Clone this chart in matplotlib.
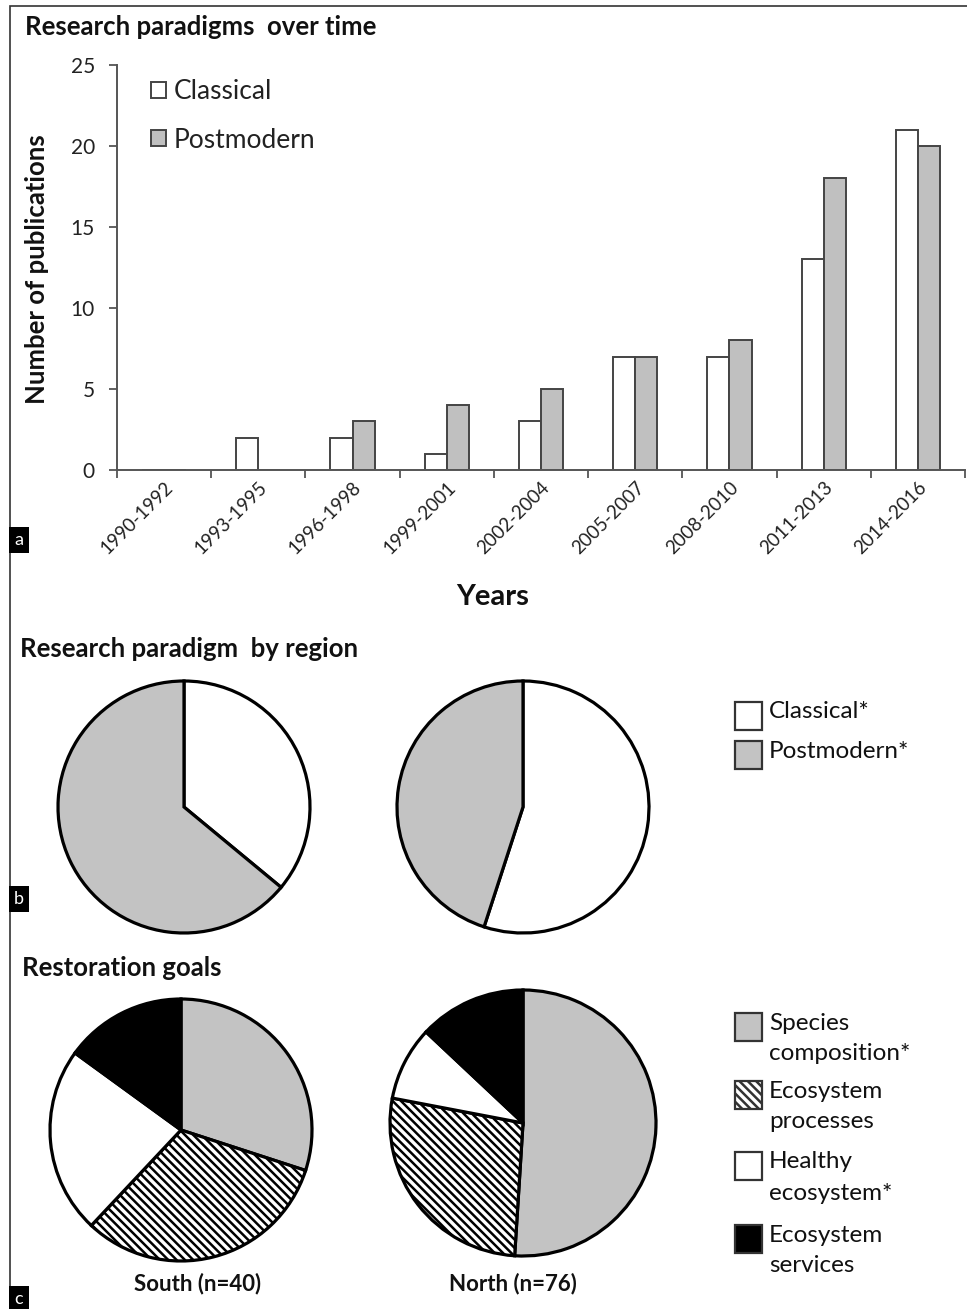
import numpy as np
import matplotlib
matplotlib.use('Agg')
import matplotlib.pyplot as plt
from matplotlib.patches import Rectangle

plt.rcParams['font.family'] = ['Lato', 'DejaVu Sans']
plt.rcParams['hatch.linewidth'] = 1.8

# panel a: publications per period
periods = ['1990-1992', '1993-1995', '1996-1998', '1999-2001', '2002-2004',
           '2005-2007', '2008-2010', '2011-2013', '2014-2016']
classical = [0, 2, 2, 1, 3, 7, 7, 13, 21]
postmodern = [0, 0, 3, 4, 5, 7, 8, 18, 20]

# panel b: paradigm share by region (%)
paradigm_labels = ['Classical*', 'Postmodern*']
paradigm_south = [36, 64]
paradigm_north = [55, 45]

# panel c: restoration goals by region (%)
goal_labels = ['Species\ncomposition*', 'Ecosystem\nprocesses',
               'Healthy\necosystem*', 'Ecosystem\nservices']
goals_south = [30, 32, 23, 15]
goals_north = [51, 27, 9, 13]
regions = ['South (n=40)', 'North (n=76)']

W, H = 967, 1309
fig = plt.figure(figsize=(W / 100, H / 100), dpi=100)
TXT = '#111111'
GREY = '#c0c0c0'


def px_axes(x0, y0, x1, y1):
    # axes from pixel box (top-left origin)
    return fig.add_axes([x0 / W, 1 - y1 / H, (x1 - x0) / W, (y1 - y0) / H])


def ftext(x, y, s, **kw):
    return fig.text(x / W, 1 - y / H, s, **kw)


# ---------- a: bars ----------
ax = px_axes(117, 65, 965, 470)
x = np.arange(len(periods)) + 0.5
w = 0.235
ax.bar(x - w / 2, classical, w, color='white', edgecolor='#444444', lw=1.4, label='Classical')
ax.bar(x + w / 2, postmodern, w, color=GREY, edgecolor='#444444', lw=1.4, label='Postmodern')
ax.set_xlim(0, len(periods))
ax.set_ylim(0, 25)
ax.set_xticks(np.arange(len(periods) + 1))
ax.set_xticklabels([])
ax.set_xticks(x, minor=True)
ax.set_xticklabels(periods, minor=True, rotation=45, ha='right', va='top',
                   rotation_mode='anchor', fontsize=13.5, color='#222222')
ax.tick_params(axis='x', which='minor', length=0, pad=6)
ax.tick_params(axis='x', which='major', direction='out', length=6, color='#555555', width=1.3)
ax.set_yticks(range(0, 26, 5))
ax.tick_params(axis='y', direction='out', length=6, color='#555555', width=1.3,
               labelsize=15, labelcolor='#222222', pad=10)
for s in ['top', 'right']:
    ax.spines[s].set_visible(False)
for s in ['left', 'bottom']:
    ax.spines[s].set_color('#555555')
    ax.spines[s].set_linewidth(1.4)
ax.legend(loc='upper left', bbox_to_anchor=(151 / W, 1 - 79 / H), bbox_transform=fig.transFigure,
          frameon=False, fontsize=19, handlelength=0.55, handleheight=0.55,
          handletextpad=0.3, labelspacing=0.9, borderpad=0, borderaxespad=0,
          labelcolor='#222222')

ftext(25, 27, 'Research paradigms  over time', fontsize=18.5, fontweight='bold', color=TXT, va='center')
ftext(37, 269, 'Number of publications', fontsize=18.5, fontweight='bold', color=TXT,
      rotation=90, ha='center', va='center')
ftext(493, 597, 'Years', fontsize=21, fontweight='bold', color=TXT, ha='center', va='center')


# ---------- pies ----------
def pie_at(cx, cy, r, vals, colors, hatches=None):
    pad = 1.04
    a = px_axes(cx - r * pad, cy - r * pad, cx + r * pad, cy + r * pad)
    a.pie(vals, colors=colors, hatch=hatches, startangle=90, counterclock=False,
          wedgeprops=dict(edgecolor='black', linewidth=2.3))
    a.set_xlim(-pad, pad)
    a.set_ylim(-pad, pad)
    a.axis('off')
    return a


ftext(20, 649, 'Research paradigm  by region', fontsize=18.5, fontweight='bold', color=TXT, va='center')
par_colors = ['white', '#c3c3c3']
pie_at(184, 807, 126, paradigm_south, par_colors)
pie_at(523, 807, 126, paradigm_north, par_colors)

ftext(22, 968, 'Restoration goals', fontsize=18.5, fontweight='bold', color=TXT, va='center')
goal_colors = ['#c3c3c3', 'white', 'white', 'black']
goal_hatches = ['', '\\\\\\\\', '', '']
pie_at(181, 1130, 131, goals_south, goal_colors, goal_hatches)
pie_at(523, 1123, 133, goals_north, goal_colors, goal_hatches)
ftext(198, 1284, regions[0], fontsize=16, fontweight='bold', color=TXT, ha='center', va='center')
ftext(513, 1284, regions[1], fontsize=16, fontweight='bold', color=TXT, ha='center', va='center')

# legends for pies (pixel overlay)
lg = fig.add_axes([0, 0, 1, 1])
lg.set_xlim(0, W)
lg.set_ylim(H, 0)
lg.axis('off')


def key(top, label, fc, hatch=None, line_gap=31):
    lg.add_patch(Rectangle((735, top), 27, 28, facecolor=fc, edgecolor='#333333',
                           lw=1.6, hatch=hatch))
    for i, line in enumerate(label.split('\n')):
        lg.text(769, top + 10 + i * line_gap, line,
                fontsize=17.5, color=TXT, va='center')


for top, lab, fc in zip([702, 741], paradigm_labels, par_colors):
    key(top, lab, fc)
for top, lab, fc, hh in zip([1013, 1081, 1152, 1225], goal_labels, goal_colors, goal_hatches):
    key(top, lab, fc, hh or None)

# panel letters
for lab, yc in [('a', 540), ('b', 899), ('c', 1299)]:
    ftext(19, yc, lab, fontsize=13, color='white', ha='center', va='center',
          bbox=dict(boxstyle='square,pad=0.3', fc='black', ec='none'))

# outer frame
fig.patches.append(Rectangle((10 / W, -0.01), 1.0, 1.01 - 6 / H, transform=fig.transFigure,
                             fill=False, edgecolor='#333333', lw=1.2))

fig.savefig('out.png', dpi=100)
